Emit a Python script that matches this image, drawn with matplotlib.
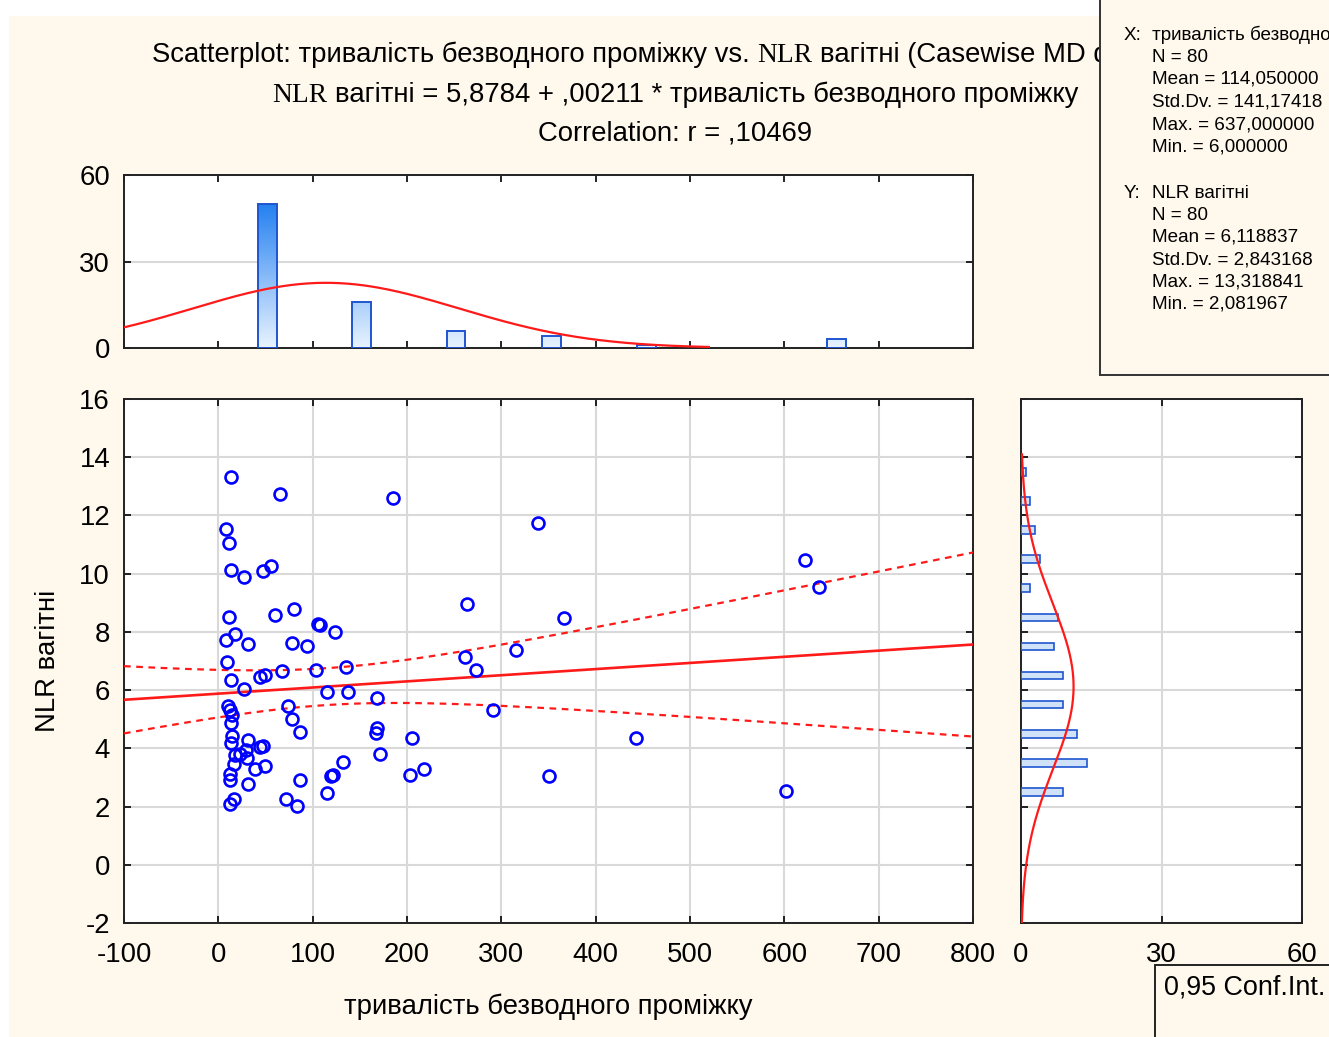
import matplotlib
matplotlib.use("Agg")
import matplotlib.pyplot as plt
import numpy as np
from matplotlib.colors import LinearSegmentedColormap
from matplotlib.patches import Rectangle

plt.rcParams["font.family"] = ["Liberation Sans", "DejaVu Sans"]
plt.rcParams["axes.unicode_minus"] = False

# scatter data: тривалість безводного проміжку (x) vs NLR вагітні (y)
x_vals = [13, 65, 185, 8, 339, 11, 13, 27, 47, 56, 622, 637,
          264, 366, 11, 60, 80, 106, 108, 124,
          8, 18, 31, 78, 94, 316, 262,
          9, 44, 49, 67, 104, 135, 13, 27, 273,
          115, 137, 168, 291, 74, 78, 10, 12, 14,
          13, 87, 14, 13, 31, 44, 47, 168, 167, 205, 443,
          29, 23, 30, 18, 17, 39, 49, 12, 119, 171, 203, 218, 132, 122, 350,
          12, 31, 87, 115, 17, 12, 72, 83, 602]
y_vals = [13.32, 12.73, 12.6, 11.53, 11.75, 11.07, 10.11, 9.87, 10.1, 10.25, 10.48, 9.55,
          8.97, 8.49, 8.51, 8.59, 8.79, 8.27, 8.22, 7.98,
          7.73, 7.93, 7.59, 7.62, 7.5, 7.39, 7.15,
          6.95, 6.45, 6.53, 6.64, 6.7, 6.79, 6.36, 6.04, 6.7,
          5.95, 5.93, 5.73, 5.32, 5.44, 5.02, 5.45, 5.3, 5.15,
          4.87, 4.57, 4.41, 4.2, 4.27, 4.03, 4.08, 4.7, 4.52, 4.35, 4.36,
          3.95, 3.8, 3.68, 3.78, 3.47, 3.3, 3.38, 3.13, 3.06, 3.81, 3.07, 3.3, 3.53, 3.07, 3.06,
          2.92, 2.77, 2.92, 2.46, 2.27, 2.08, 2.27, 2.03, 2.54]

# marginal histograms (counts)
x_hist_centers = [52, 152, 252, 353, 454, 655]
x_hist_counts = [50, 16, 6, 4, 1, 3]
y_hist_centers = [2.5, 3.5, 4.5, 5.5, 6.5, 7.5, 8.5, 9.5, 10.5, 11.5, 12.5, 13.5]
y_hist_counts = [9, 14, 12, 9, 9, 7, 8, 2, 4, 3, 2, 1]

# summary statistics shown in the chart
n_obs = 80
intercept, slope = 5.8784, 0.00211
x_mean, x_sd = 114.05, 141.17418
y_mean, y_sd = 6.118837, 2.843168
r_value = 0.10469

x_stats = ["N = 80", "Mean = 114,050000", "Std.Dv. = 141,17418",
           "Max. = 637,000000", "Min. = 6,000000"]
y_stats = ["N = 80", "Mean = 6,118837", "Std.Dv. = 2,843168",
           "Max. = 13,318841", "Min. = 2,081967"]

W, H = 1329, 1037
BG = "#fff8ec"
GRID = "#d9d9d9"
BLUE_EDGE = "#1f55d0"
RED = "#ff1a1a"
FS = 19.8   # title / legend
TFS = 19.8  # ticks and axis labels


def px_rect(left, top, right, bottom):
    return [left / W, 1 - bottom / H, (right - left) / W, (bottom - top) / H]


fig = plt.figure(figsize=(W / 100, H / 100), dpi=100, facecolor="white")
fig.patches.append(Rectangle((9 / W, 0), 1, 1 - 16 / H, transform=fig.transFigure,
                             facecolor=BG, edgecolor="none", zorder=-10))

ax = fig.add_axes(px_rect(124, 399, 973, 923))
ax_top = fig.add_axes(px_rect(124, 175, 973, 348))
ax_right = fig.add_axes(px_rect(1021, 399, 1302, 923))

for a in (ax, ax_top, ax_right):
    a.set_facecolor("white")
    for sp in a.spines.values():
        sp.set_linewidth(1.4)
        sp.set_color("#222222")
    a.tick_params(direction="in", length=5, width=1.2, labelsize=TFS,
                  top=True, right=True)
    a.tick_params(axis="x", pad=14)
    a.tick_params(axis="y", pad=10)

# main scatter
xs = np.linspace(-100, 800, 400)
fit = intercept + slope * xs
s_res = y_sd * np.sqrt(1 - r_value ** 2) * np.sqrt((n_obs - 1) / (n_obs - 2))
se = s_res * np.sqrt(1 / n_obs + (xs - x_mean) ** 2 / ((n_obs - 1) * x_sd ** 2))
t_crit = 1.9908
ax.plot(xs, fit, color=RED, lw=1.9, zorder=3)
ax.plot(xs, fit + t_crit * se, color=RED, lw=1.6, ls=(0, (3, 2.5)), zorder=3)
ax.plot(xs, fit - t_crit * se, color=RED, lw=1.6, ls=(0, (3, 2.5)), zorder=3)
ax.plot(x_vals, y_vals, ls="none", marker="o", ms=8.6, mfc="none", mec="#0000ff",
        mew=1.9, zorder=4)
ax.set_xlim(-100, 800)
ax.set_ylim(-2, 16)
ax.set_xticks(np.arange(-100, 801, 100))
ax.set_yticks(np.arange(-2, 17, 2))
ax.grid(True, color=GRID, lw=1.5, zorder=0)
ax.set_axisbelow(True)
ax.set_xlabel("тривалість безводного проміжку", fontsize=TFS, labelpad=18)
ax.set_ylabel("NLR вагітні", fontsize=TFS, labelpad=13)

# top histogram with gradient bars
cmap = LinearSegmentedColormap.from_list("bar", ["#e8f3ff", "#1c7cf0"])
for c, n in zip(x_hist_centers, x_hist_counts):
    bar = ax_top.bar(c, n, width=20, facecolor="none", edgecolor=BLUE_EDGE,
                     lw=1.4, zorder=3)[0]
    grad = np.linspace(0, n / 52, 100).reshape(-1, 1)
    im = ax_top.imshow(grad, cmap=cmap, vmin=0, vmax=1, origin="lower",
                       extent=(c - 10, c + 10, 0, n), aspect="auto", zorder=2)
    im.set_clip_path(bar)
xs_top = np.linspace(-100, 520, 300)
dens_top = n_obs * 100 / (x_sd * np.sqrt(2 * np.pi)) * np.exp(-0.5 * ((xs_top - x_mean) / x_sd) ** 2)
ax_top.plot(xs_top, dens_top, color=RED, lw=1.6, zorder=4)
ax_top.set_xlim(-100, 800)
ax_top.set_ylim(0, 60)
ax_top.set_xticks(np.arange(-100, 801, 100))
ax_top.set_yticks([0, 30, 60])
ax_top.tick_params(labelbottom=False)
ax_top.yaxis.grid(True, color=GRID, lw=1.5, zorder=0)
ax_top.set_axisbelow(True)

# right histogram
ax_right.barh(y_hist_centers, y_hist_counts, height=0.26, facecolor="#cfe2f8",
              edgecolor=BLUE_EDGE, lw=1.2, zorder=3)
ys_r = np.linspace(-2, 14.1, 300)
dens_r = n_obs * 1 / (y_sd * np.sqrt(2 * np.pi)) * np.exp(-0.5 * ((ys_r - y_mean) / y_sd) ** 2)
ax_right.plot(dens_r, ys_r, color=RED, lw=1.6, zorder=4)
ax_right.set_xlim(0, 60)
ax_right.set_ylim(-2, 16)
ax_right.set_xticks([0, 30, 60])
ax_right.set_yticks(np.arange(-2, 17, 2))
ax_right.tick_params(labelleft=False)
ax_right.grid(True, color=GRID, lw=1.5, zorder=0)
ax_right.set_axisbelow(True)

# title, with the serif "NLR" as in the original
renderer = fig.canvas.get_renderer()
space_px = 0.278 * FS * 100 / 72


def mixed_line(y_px, pieces, cx_px=675):
    texts = []
    for s, fam in pieces:
        t = fig.text(0, 1 - y_px / H, s, fontsize=FS, family=fam, va="baseline", ha="left")
        texts.append(t)
    widths = [t.get_window_extent(renderer).width for t in texts]
    total = sum(widths) + space_px * (len(texts) - 1)
    x = cx_px - total / 2
    for t, w in zip(texts, widths):
        t.set_x(x / W)
        x += w + space_px


serif = ["Liberation Serif", "DejaVu Serif"]
sans = ["Liberation Sans", "DejaVu Sans"]
mixed_line(62, [("Scatterplot: тривалість безводного проміжку vs.", sans),
                ("NLR", serif), ("вагітні (Casewise MD deletion)", sans)])
mixed_line(102, [("NLR", serif),
                 ("вагітні = 5,8784 + ,00211 * тривалість безводного проміжку", sans)])
mixed_line(141, [("Correlation: r = ,10469", sans)])

# statistics box (covers the end of the first title line, as in the original)
fig.patches.append(Rectangle((1100 / W, 1 - 375 / H), 0.3, 0.4, transform=fig.transFigure,
                             facecolor=BG, edgecolor="#333333", lw=1.4, zorder=5))
sfs = 13.6
fig.text(1124 / W, 1 - 35 / H, "X:", fontsize=sfs, va="center", zorder=6)
fig.text(1152 / W, 1 - 35 / H, "тривалість безводного проміжку", fontsize=sfs, va="center", zorder=6)
for i, s in enumerate(x_stats):
    fig.text(1152 / W, 1 - (57 + 22.5 * i) / H, s, fontsize=sfs, va="center", zorder=6)
fig.text(1124 / W, 1 - 193 / H, "Y:", fontsize=sfs, va="center", zorder=6)
fig.text(1152 / W, 1 - 193 / H, "NLR вагітні", fontsize=sfs, va="center", zorder=6)
for i, s in enumerate(y_stats):
    fig.text(1152 / W, 1 - (215 + 22.3 * i) / H, s, fontsize=sfs, va="center", zorder=6)

# legend box
fig.patches.append(Rectangle((1155 / W, -0.05), 0.2, 0.05 + (1037 - 965) / H,
                             transform=fig.transFigure, facecolor=BG,
                             edgecolor="#222222", lw=1.4, zorder=5))
fig.text(1164 / W, 1 - 988 / H, "0,95 Conf.Int.", fontsize=19.4, va="center", zorder=6)

fig.savefig("out.png", dpi=100, facecolor=fig.get_facecolor())
